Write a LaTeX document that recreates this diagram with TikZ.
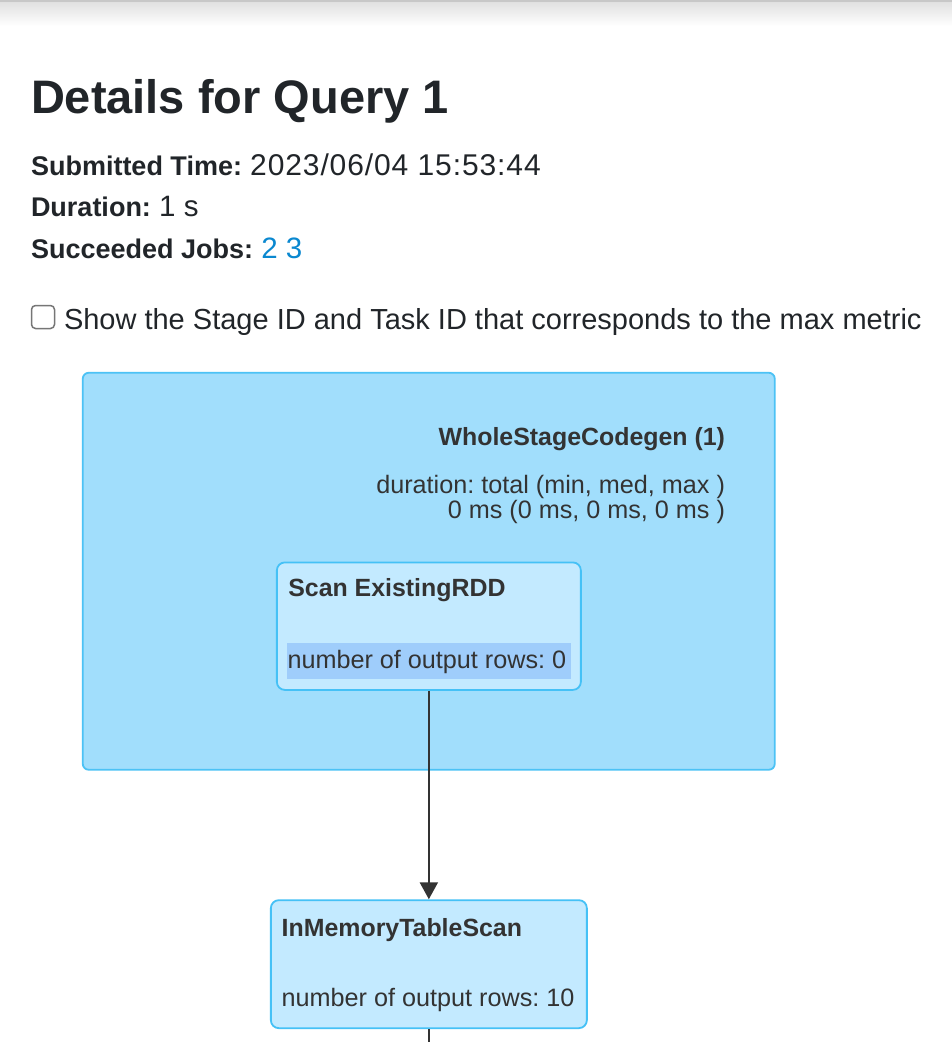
\documentclass[tikz,border=0pt]{standalone}
\usepackage{fontspec}
\setmainfont{Liberation Sans}
\usetikzlibrary{arrows.meta}
\frenchspacing
\definecolor{ink}{HTML}{212529}
\definecolor{nodeink}{HTML}{333333}
\definecolor{linkblue}{HTML}{0A88D0}
\definecolor{clusterfill}{HTML}{A1DEFC}
\definecolor{clusterline}{HTML}{4CC2F5}
\definecolor{opfill}{HTML}{C3EAFF}
\definecolor{opline}{HTML}{45C1F6}
\definecolor{hlfill}{HTML}{9FCDFB}
\definecolor{boxgray}{HTML}{767676}
\tikzset{
  x=1pt, y=-1pt,
  txt/.style={anchor=base west, inner sep=0pt, outer sep=0pt},
  txtr/.style={anchor=base east, inner sep=0pt, outer sep=0pt},
  clusterbox/.style={draw=clusterline, fill=clusterfill, line width=1.8pt, rounded corners=6pt, inner sep=0pt},
  opbox/.style={draw=opline, fill=opfill, line width=1.8pt, rounded corners=8pt, inner sep=0pt},
  titlefont/.style={font=\fontsize{47}{56}\selectfont\bfseries, text=ink},
  metafont/.style={font=\fontsize{29.5}{35}\selectfont, text=ink},
  nodefont/.style={font=\fontsize{25.2}{30}\selectfont, text=nodeink},
  nodebold/.style={font=\fontsize{24.9}{30}\selectfont\bfseries, text=nodeink},
  flow/.style={draw=nodeink, line width=2.3pt, -{Triangle[width=18pt,length=17pt]}},
}
\newcommand{\metabold}[1]{{\fontsize{27}{33}\selectfont\bfseries #1}}
\newcommand{\metadate}[1]{{\fontsize{30}{35}\selectfont\addfontfeature{LetterSpace=3}#1}}
\begin{document}
\begin{tikzpicture}
\fill[white] (0,0) rectangle (952,1042);
\useasboundingbox (0,0) rectangle (952,1042);
% top shadow
\shade[top color=black!12, bottom color=white] (0,2) rectangle (952,26);
\fill[black!22] (0,0) rectangle (952,2);

% header
\node[txt, titlefont] (title) at (31,113) {Details for Query 1};
\node[txt, metafont] (submitted) at (31,175) {\metabold{Submitted Time:} \metadate{2023/06/04 15:53:44}};
\node[txt, metafont] (duration) at (31,216.5) {\metabold{Duration:} 1 s};
\node[txt, metafont] (jobs) at (31,258) {\metabold{Succeeded Jobs:} \textcolor{linkblue}{2 3}};

% checkbox
\node[draw=boxgray, line width=1.5pt, rounded corners=4pt, minimum width=23pt, minimum height=23pt, inner sep=0pt] (check) at (43,317) {};
\node[txt, font=\fontsize{29}{34}\selectfont, text=ink] (checklabel) at (64,329.3) {Show the Stage ID and Task ID that corresponds to the max metric};

% cluster
\node[clusterbox, minimum width=692pt, minimum height=397pt] (wsc) at (428.75,571.25) {};
\node[txtr, nodebold] (wsctitle) at (725,445) {WholeStageCodegen (1)};
\node[txtr, nodefont] (wscdur) at (725,493) {duration: total (min, med, max )};
\node[txtr, nodefont] (wscval) at (725,518.5) {0 ms (0 ms, 0 ms, 0 ms )};

% scan node
\node[opbox, minimum width=304pt, minimum height=127.5pt] (scan) at (428.85,626.15) {};
\node[txt, nodebold] (scantitle) at (288.3,596.7) {Scan ExistingRDD};
\fill[hlfill] (286.7,643.3) rectangle (571,679);
\node[txt, nodefont] (scanrows) at (287.5,668.5) {number of output rows: 0};

% in-memory node
\node[opbox, minimum width=316pt, minimum height=128pt] (mem) at (428.85,964.15) {};
\node[txt, nodebold] (memtitle) at (281.7,936) {InMemoryTableScan};
\node[txt, nodefont] (memrows) at (281.7,1006.7) {number of output rows: 10};

% connectors
\draw[flow] (scan.south) -- (mem.north);
\coordinate (tail) at (428.85,1042);
\draw[draw=nodeink, line width=2.3pt] (mem.south) -- (tail);
\end{tikzpicture}
\end{document}
